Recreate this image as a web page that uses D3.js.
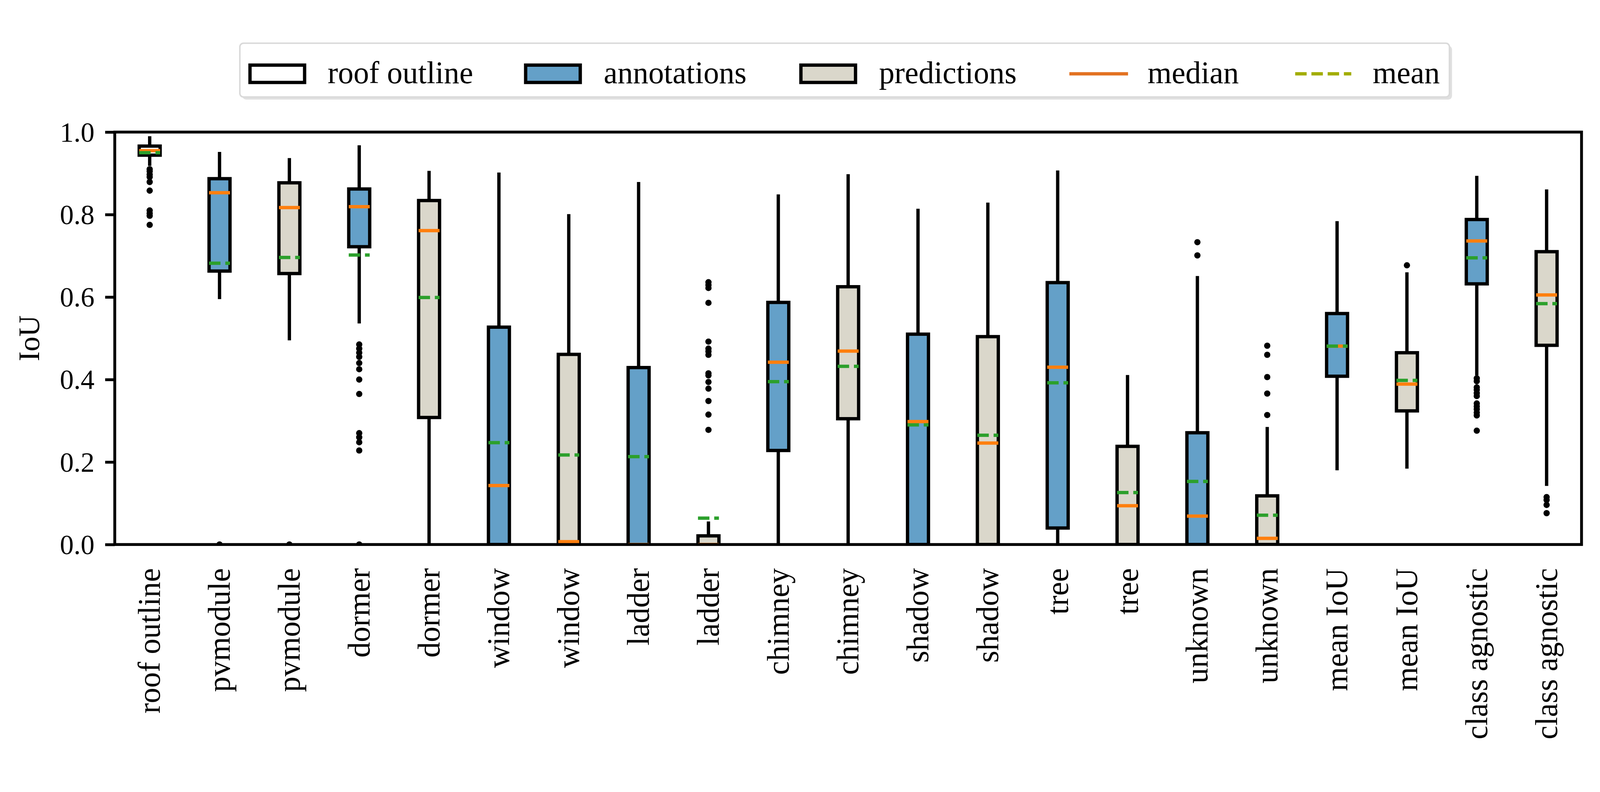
<!DOCTYPE html>
<html>
<head>
<meta charset="utf-8">
<script src="https://cdn.jsdelivr.net/npm/d3@7"></script>
<style>
  html, body { margin: 0; padding: 0; background: #fff; overflow: hidden; }
  svg { display: block; }
  text { font-family: "Liberation Serif", serif; fill: #000; }
</style>
</head>
<body>
<script>
// categories along the x axis
var categories = ["roof outline", "pvmodule", "pvmodule", "dormer", "dormer", "window", "window",
  "ladder", "ladder", "chimney", "chimney", "shadow", "shadow", "tree", "tree",
  "unknown", "unknown", "mean IoU", "mean IoU", "class agnostic", "class agnostic"];
// which kind of box: roof / ann / pred
var kinds = ["roof", "ann", "pred", "ann", "pred", "ann", "pred", "ann", "pred", "ann", "pred",
  "ann", "pred", "ann", "pred", "ann", "pred", "ann", "pred", "ann", "pred"];

var whiskerLow  = [0.918, 0.595, 0.495, 0.536, 0, 0, 0, 0, 0, 0, 0, 0, 0, 0, 0, 0, 0, 0.180, 0.184, 0.410, 0.142];
var q1          = [0.944, 0.663, 0.657, 0.722, 0.308, 0, 0, 0, 0, 0.228, 0.305, 0, 0, 0.040, 0, 0, 0, 0.408, 0.324, 0.632, 0.483];
var medians     = [0.955, 0.853, 0.817, 0.819, 0.761, 0.143, 0.007, 0, 0, 0.442, 0.469, 0.298, 0.246, 0.430, 0.094, 0.069, 0.015, 0.481, 0.389, 0.736, 0.605];
var q3          = [0.966, 0.887, 0.877, 0.862, 0.834, 0.527, 0.461, 0.429, 0.021, 0.587, 0.625, 0.510, 0.504, 0.635, 0.238, 0.271, 0.118, 0.560, 0.465, 0.788, 0.710];
var whiskerHigh = [0.990, 0.952, 0.937, 0.968, 0.906, 0.902, 0.801, 0.879, 0.056, 0.849, 0.898, 0.814, 0.829, 0.907, 0.411, 0.651, 0.285, 0.784, 0.660, 0.894, 0.861];
var means       = [0.950, 0.682, 0.696, 0.702, 0.599, 0.247, 0.217, 0.213, 0.064, 0.395, 0.432, 0.290, 0.265, 0.392, 0.126, 0.153, 0.071, 0.481, 0.398, 0.695, 0.584];
var fliers = [
  [0.910, 0.905, 0.897, 0.891, 0.879, 0.858, 0.810, 0.803, 0.797, 0.775],
  [0.0],
  [0.0],
  [0.485, 0.475, 0.465, 0.455, 0.44, 0.425, 0.40, 0.365, 0.27, 0.26, 0.248, 0.228, 0.0],
  [], [], [], [],
  [0.636, 0.629, 0.622, 0.586, 0.492, 0.475, 0.468, 0.46, 0.415, 0.41, 0.394, 0.378, 0.348, 0.315, 0.278],
  [], [], [], [], [], [],
  [0.733, 0.701],
  [0.482, 0.46, 0.406, 0.366, 0.314],
  [],
  [0.677],
  [0.403, 0.396, 0.381, 0.375, 0.367, 0.36, 0.342, 0.335, 0.328, 0.32, 0.313, 0.276],
  [0.115, 0.108, 0.096, 0.076]
];
var yTicks = [0, 0.2, 0.4, 0.6, 0.8, 1.0];

var legendLabels = ["roof outline", "annotations", "predictions", "median", "mean"];

var fills = { roof: "#ffffff", ann: "#64a0c8", pred: "#dad7cb" };

var svg_width = 4336, svg_height = 2028;
var margin = {top: 358, left: 311},
    width = 3975,
    height = 1118;

// viewBox, scaled to the viewport width and anchored at the top
var svg = d3.select("body").append("svg")
    .attr("viewBox", "0 0 " + svg_width + " " + svg_height)
    .attr("preserveAspectRatio", "xMinYMin meet")
    .style("width", "100vw");

var g = svg.append("g").attr("transform", "translate(" + margin.left + "," + margin.top + ")");

var x = d3.scaleBand().domain(d3.range(categories.length)).range([0, width]).padding(0);
var y = d3.scaleLinear().domain([0, 1]).range([height, 0]);

var boxW = x.step() * 0.3;
function cx(i) { return x(i) + x.bandwidth() / 2; }

svg.append("defs").append("clipPath").attr("id", "plotclip")
  .append("rect").attr("width", width).attr("height", height);

var plot = g.append("g").attr("clip-path", "url(#plotclip)");

var data = d3.range(categories.length).map(function(i) {
  return {i: i, kind: kinds[i], lo: whiskerLow[i], q1: q1[i], med: medians[i], q3: q3[i],
          hi: whiskerHigh[i], mean: means[i], fl: fliers[i]};
});

var box = plot.selectAll(".box").data(data).enter().append("g").attr("class", "box");

// whiskers
box.append("line")
    .attr("x1", function(d) { return cx(d.i); })
    .attr("x2", function(d) { return cx(d.i); })
    .attr("y1", function(d) { return y(d.q3); })
    .attr("y2", function(d) { return y(d.hi); })
    .attr("stroke", "#000").attr("stroke-width", 9);
box.append("line")
    .attr("x1", function(d) { return cx(d.i); })
    .attr("x2", function(d) { return cx(d.i); })
    .attr("y1", function(d) { return y(d.q1); })
    .attr("y2", function(d) { return y(d.lo); })
    .attr("stroke", "#000").attr("stroke-width", 9);

// boxes
box.append("rect")
    .attr("x", function(d) { return cx(d.i) - boxW / 2; })
    .attr("y", function(d) { return y(d.q3); })
    .attr("width", boxW)
    .attr("height", function(d) { return y(d.q1) - y(d.q3); })
    .attr("fill", function(d) { return fills[d.kind]; })
    .attr("stroke", "#000").attr("stroke-width", 9);

// medians
box.append("line")
    .attr("x1", function(d) { return cx(d.i) - boxW / 2; })
    .attr("x2", function(d) { return cx(d.i) + boxW / 2; })
    .attr("y1", function(d) { return y(d.med); })
    .attr("y2", function(d) { return y(d.med); })
    .attr("stroke", "#ff7f0e").attr("stroke-width", 9);

// means
box.append("line")
    .attr("x1", function(d) { return cx(d.i) - boxW / 2; })
    .attr("x2", function(d) { return cx(d.i) + boxW / 2; })
    .attr("y1", function(d) { return y(d.mean); })
    .attr("y2", function(d) { return y(d.mean); })
    .attr("stroke", "#2ca02c").attr("stroke-width", 9)
    .attr("stroke-dasharray", "31,13");

// fliers
box.selectAll(".flier")
    .data(function(d) { return d.fl.map(function(v) { return {i: d.i, v: v}; }); })
    .enter().append("circle")
    .attr("class", "flier")
    .attr("cx", function(d) { return cx(d.i); })
    .attr("cy", function(d) { return y(d.v); })
    .attr("r", 8.5)
    .attr("fill", "#000");

// frame
g.append("rect")
    .attr("width", width).attr("height", height)
    .attr("fill", "none").attr("stroke", "#000").attr("stroke-width", 7.7);

// y axis
var yAxis = g.append("g")
    .call(d3.axisLeft(y).tickValues(yTicks).tickFormat(d3.format(".1f")).tickSize(26).tickPadding(29).tickSizeOuter(0));
yAxis.select(".domain").remove();
yAxis.selectAll(".tick line").attr("stroke", "#000").attr("stroke-width", 7.7);
yAxis.selectAll(".tick text").style("font-size", "75px").attr("dy", "0.34em");

// x axis labels
var xAxis = g.append("g")
    .attr("transform", "translate(0," + height + ")")
    .call(d3.axisBottom(x).tickSize(0).tickFormat(function(i) { return categories[i]; }));
xAxis.select(".domain").remove();
xAxis.selectAll(".tick text")
    .attr("transform", "rotate(-90)")
    .attr("y", 0)
    .attr("x", -64)
    .attr("dy", "0.33em")
    .attr("text-anchor", "end")
    .style("font-size", "84px");

// y label
svg.append("text")
    .attr("transform", "translate(106," + (margin.top + height / 2) + ") rotate(-90)")
    .attr("text-anchor", "middle")
    .style("font-size", "80px")
    .text("IoU");

// legend
var leg = svg.append("g");
leg.append("rect")
    .attr("x", 657).attr("y", 124).attr("width", 3278).attr("height", 146).attr("rx", 10)
    .attr("fill", "#e0e0e0");
leg.append("rect")
    .attr("x", 650).attr("y", 117).attr("width", 3278).attr("height", 146).attr("rx", 10)
    .attr("fill", "#fff").attr("stroke", "#d9d9d9").attr("stroke-width", 4);

var patchX = [673, 1420, 2166];
var patchFill = [fills.roof, fills.ann, fills.pred];
patchX.forEach(function(px, k) {
  leg.append("rect")
      .attr("x", px + 4.5).attr("y", 176.5).attr("width", 148).attr("height", 47)
      .attr("fill", patchFill[k]).attr("stroke", "#000").attr("stroke-width", 9);
});
leg.append("line")
    .attr("x1", 2898).attr("x2", 3057).attr("y1", 200).attr("y2", 200)
    .attr("stroke", "#e37222").attr("stroke-width", 9);
leg.append("line")
    .attr("x1", 3510).attr("x2", 3662).attr("y1", 200).attr("y2", 200)
    .attr("stroke", "#a2ad00").attr("stroke-width", 9)
    .attr("stroke-dasharray", "31,13");

var labelX = [888, 1636, 2382, 3110, 3720];
leg.selectAll(".ltext").data(legendLabels).enter().append("text")
    .attr("class", "ltext")
    .attr("x", function(d, k) { return labelX[k]; })
    .attr("y", 226)
    .style("font-size", "84px")
    .text(function(d) { return d; });
</script>
</body>
</html>
